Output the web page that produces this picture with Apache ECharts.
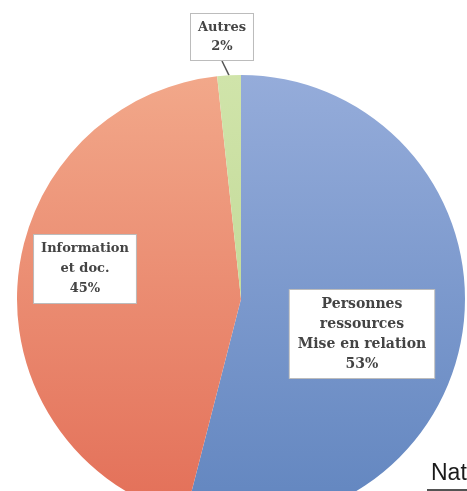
<!DOCTYPE html>
<html>
<head>
<meta charset="utf-8">
<script src="https://cdn.jsdelivr.net/npm/echarts@6/dist/echarts.min.js"></script>
<style>
    html, body { margin: 0; padding: 0; background: #fff; }
    #chart { width: 467px; height: 491px; }
</style>
</head>
<body>
<div id="chart"></div>
<script>
// slices, clockwise from 12 o'clock
const categories = ['Personnes\nressources\nMise en relation', 'Information\net doc.', 'Autres'];
const values = [54.0, 44.3, 1.7];
const pctLabels = ['53%', '45%', '2%'];

const sliceColors = [
    ['#95acda', '#6185bf'],
    ['#f2a88a', '#e36f58'],
    ['#d0e4aa', '#c4db9a']
];
// where each label box sits (centre of the box)
const labelSpots = [[362, 334], [85, 269], [222, 37]];

let myChart = echarts.init(document.getElementById('chart'));

let pieData = categories.map((name, i) => ({
    name: name,
    value: values[i],
    itemStyle: {
        color: new echarts.graphic.LinearGradient(0, 0, 0, 1, [
            { offset: 0, color: sliceColors[i][0] },
            { offset: 1, color: sliceColors[i][1] }
        ])
    },
    label: {
        position: i === 2 ? 'outside' : 'inside',
        fontSize: i === 0 ? 14 : 13,
        lineHeight: i === 2 ? 19 : 20,
        padding: i === 0 ? [5, 8, 3, 8] : (i === 1 ? [5, 7, 3, 7] : [5, 7, 3, 7])
    },
    labelLine: { show: i === 2 }
}));

let option = {
    animation: false,
    backgroundColor: '#ffffff',
    series: [
        {
            type: 'pie',
            center: [241, 299],
            radius: 224,
            startAngle: 90,
            clockwise: true,
            data: pieData,
            label: {
                show: true,
                color: '#444444',
                fontFamily: 'DejaVu Serif',
                fontWeight: 'bold',
                align: 'center',
                backgroundColor: '#ffffff',
                borderColor: '#bcbcbc',
                borderWidth: 1,
                formatter: (p) => p.name + '\n' + pctLabels[p.dataIndex]
            },
            labelLine: {
                length: 4,
                length2: 0,
                lineStyle: { color: '#555', width: 1.5 }
            },
            labelLayout: (params) => ({
                x: labelSpots[params.dataIndex][0],
                y: labelSpots[params.dataIndex][1],
                align: 'center',
                verticalAlign: 'middle'
            })
        }
    ],
    graphic: [
        {
            type: 'text',
            left: 431,
            top: 462,
            style: {
                text: 'Nature',
                font: '23px "Liberation Sans", sans-serif',
                fill: '#1a1a1a'
            }
        },
        {
            type: 'line',
            shape: { x1: 427, y1: 490, x2: 467, y2: 490 },
            style: { stroke: '#1a1a1a', lineWidth: 1.5 }
        }
    ]
};

myChart.setOption(option);
</script>
</body>
</html>
